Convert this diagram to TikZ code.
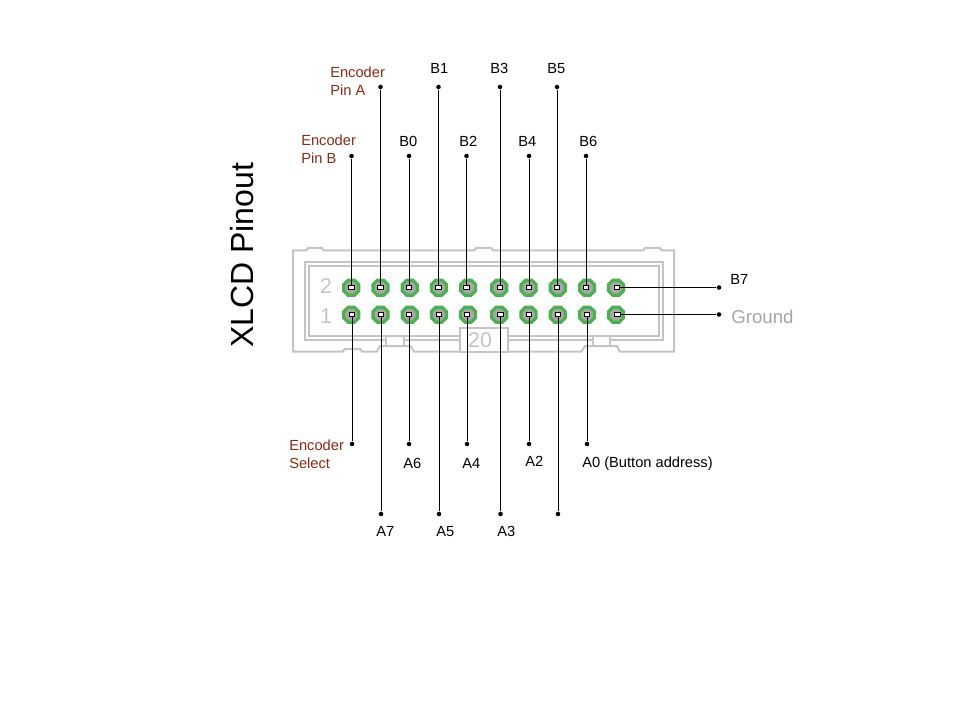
\documentclass[tikz,border=0pt]{standalone}
\usepackage{fontspec}
\setmainfont{Liberation Sans}
\usetikzlibrary{shapes.geometric}
\definecolor{outl}{HTML}{C4C4C4}
\definecolor{padg}{HTML}{4CAF50}
\definecolor{holeg}{HTML}{A8A8A8}
\definecolor{encred}{HTML}{8B2A14}
\definecolor{gtext}{HTML}{A6A6A6}
\tikzset{
 x=0.75pt,y=-0.75pt,
 shell/.style={draw=outl,line width=1.5pt,fill=none,line join=miter},
 pad/.style={regular polygon,regular polygon sides=8,draw=padg,line width=2.4pt,fill=holeg,minimum size=12.2pt,inner sep=0pt},
 pinsq/.style={rectangle,draw=black,line width=0.75pt,fill=white,minimum width=4pt,minimum height=3.6pt,inner sep=0pt},
 enddot/.style={circle,fill=black,minimum size=3.4pt,inner sep=0pt},
 wire/.style={draw=black,line width=0.75pt},
 lbl/.style={font=\fontsize{11pt}{13.5pt}\selectfont,text=black,inner sep=0pt,align=left,anchor=west},
 redlbl/.style={lbl,text=encred},
 silk/.style={font=\fontsize{16pt}{16pt}\selectfont,text=outl,inner sep=0pt},
}
\begin{document}
\begin{tikzpicture}
\useasboundingbox (0,0) rectangle (960,720);
% shell
\draw[shell] (293,250.5) -- (306.5,250.5) -- (308,248) -- (322,248) -- (323.5,250.5) -- (474.5,250.5) -- (476,248) -- (491.5,248) -- (493,250.5) -- (643.5,250.5) -- (645,248) -- (660,248) -- (661.5,250.5) -- (674,250.5) -- (674,351.5) -- (619.5,351.5) -- (617,346) -- (585,346) -- (581.5,351.5) -- (414,351.5) -- (410.5,346) -- (380,346) -- (377,351.5) -- (362,351.5) -- (360.5,349) -- (344.5,349) -- (343,351.5) -- (293,351.5) -- cycle;
\draw[shell] (304.5,262.5) rectangle (663,340);
\draw[shell] (308.5,266.5) rectangle (659,336);
\fill[white] (387,337) rectangle (403.5,345);
\fill[white] (594,337) rectangle (609.5,345);
\draw[shell] (386,336) -- (386,346) (404,336) -- (404,346);
\draw[shell] (593,336) -- (593,346) (610,336) -- (610,346);
\draw[shell,fill=white] (460,328) rectangle (508,351.5);
\node[silk] (n2) at (326,286) {2};
\node[silk] (n1) at (326,316) {1};
\node[silk] (n20) at (480,340) {20};
% pads
\foreach \i/\x in {1/351.3,2/380.5,3/409.7,4/438.9,5/468.1,6/499.3,7/528.6,8/557.8,9/587,10/616}{
 \node[pad] (t\i) at (\x,287.7) {};
 \node[pad] (b\i) at (\x,314.7) {};
}
% pin markers
\foreach \i/\x in {1/351.5,2/380.5,3/409,4/438.5,5/466.5,6/500,7/529,8/557,9/586,10/617}{
 \node[pinsq] (tp\i) at (\x,287.5) {};
}
\foreach \i/\x in {1/352,2/381,3/409,4/439,5/467,6/500.5,7/529,8/558,9/587,10/617.5}{
 \node[pinsq] (bp\i) at (\x,314.5) {};
}
% end dots
\foreach \n/\x/\y in {e1/351.5/156,e2/380.5/87,e3/409/156,e4/438.5/87,e5/466.5/156,e6/500/87,e7/529/156,e8/557/87,e9/586/156,e10/719/287.5}{
 \node[enddot] (\n) at (\x,\y) {};
}
\foreach \n/\x/\y in {f1/352/444,f2/381/514,f3/409/444,f4/439/514,f5/467/444,f6/500.5/514,f7/529/444,f8/558/514,f9/587/444,f10/719/314.5}{
 \node[enddot] (\n) at (\x,\y) {};
}
\foreach \i in {1,...,10}{
 \draw[wire] (e\i) -- (tp\i);
 \draw[wire] (f\i) -- (bp\i);
}
% labels
\node[redlbl] (lA) at (330,81) {Encoder\\Pin A};
\node[redlbl] (lB) at (301,149) {Encoder\\Pin B};
\node[redlbl] (lS) at (289,454) {Encoder\\Select};
\node[lbl] at (430,68) {B1};
\node[lbl] at (490,68) {B3};
\node[lbl] at (547,68.5) {B5};
\node[lbl] at (399,141.5) {B0};
\node[lbl] at (459,141.5) {B2};
\node[lbl] at (518,141.5) {B4};
\node[lbl] at (579,141.5) {B6};
\node[lbl] at (730,279.5) {B7};
\node[lbl,text=gtext,font=\fontsize{14pt}{15pt}\selectfont] at (731,317) {Ground};
\node[lbl] at (403,463.5) {A6};
\node[lbl] at (462,463.5) {A4};
\node[lbl] at (525,461.5) {A2};
\node[lbl] at (582,463.5) {A0 (Button address)};
\node[lbl] at (376,531.5) {A7};
\node[lbl] at (436,531.5) {A5};
\node[lbl] at (497,531.5) {A3};
\node[rotate=90,font=\fontsize{24pt}{28pt}\selectfont,text=black,inner sep=0pt] (title) at (242,255.5) {XLCD Pinout};
\end{tikzpicture}
\end{document}
